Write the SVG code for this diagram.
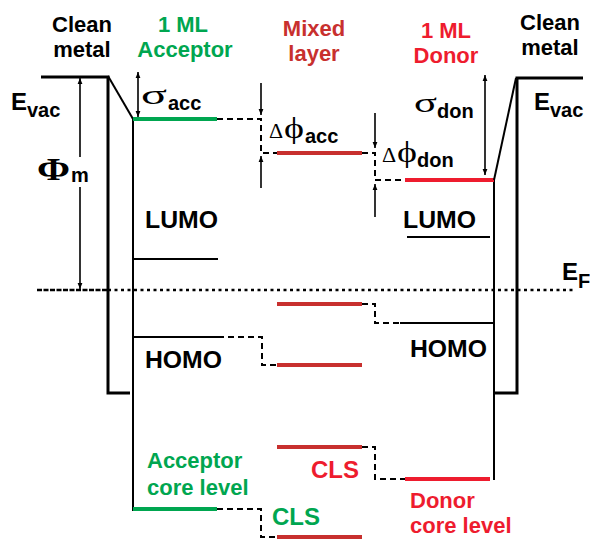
<svg xmlns="http://www.w3.org/2000/svg" width="590" height="540" viewBox="0 0 590 540">
<defs>
<marker id="ah" viewBox="0 0 10 10" refX="10" refY="5" markerWidth="6" markerHeight="10" markerUnits="userSpaceOnUse" orient="auto-start-reverse">
<path d="M0,1 L10,5 L0,9 Z" fill="#000"/>
</marker>
<style>
.t{font-family:"Liberation Sans",Arial,sans-serif;font-weight:bold;font-size:22px}
.b{font-family:"Liberation Sans",Arial,sans-serif;font-weight:bold;font-size:24px}
.s{font-family:"Liberation Sans",Arial,sans-serif;font-weight:bold;font-size:20px}
.g{font-family:"Liberation Serif","Times New Roman",serif}
.grn{fill:#00a650}
.mred{fill:#c8302e}
.dred{fill:#ee1c2e}
.metal{fill:none;stroke:#000;stroke-width:3}
.thin{fill:none;stroke:#000;stroke-width:2}
.lvg{stroke:#00a650;stroke-width:4}
.lvm{stroke:#c8302e;stroke-width:4}
.lvd{stroke:#ee1c2e;stroke-width:4}
.lvk{stroke:#000;stroke-width:2}
.dash{fill:none;stroke:#000;stroke-width:2;stroke-dasharray:6,4}
.arr{fill:none;stroke:#000;stroke-width:1.6}
</style>
</defs>
<rect width="590" height="540" fill="#fff"/>

<g id="fermi-level">
<path d="M37,290 H108" stroke="#000" stroke-width="2.5" stroke-dasharray="5,1.5"/>
<path d="M108,290 H573" stroke="#000" stroke-width="2.5" stroke-dasharray="3,3.5"/>
<text class="b" x="562" y="280">E</text>
<text class="s" x="578" y="288">F</text>
</g>

<g id="left-metal">
<path class="metal" d="M41,77 H108 V393 H130"/>
<path class="thin" d="M108,76 L133,119" stroke-width="2.5"/>
<text class="t" x="82" y="32" text-anchor="middle">Clean</text>
<text class="t" x="82" y="57" text-anchor="middle">metal</text>
<text class="b" x="11" y="110">E</text>
<text class="s" x="27" y="117">vac</text>
</g>

<g id="acceptor">
<path class="thin" d="M133,119 V511"/>
<line class="lvg" x1="133" y1="119" x2="217" y2="119"/>
<line class="lvk" x1="133" y1="259" x2="218" y2="259"/>
<line class="lvk" x1="133" y1="337" x2="218" y2="337"/>
<line class="lvg" x1="133" y1="509" x2="217" y2="509"/>
<text class="t grn" x="183" y="32" text-anchor="middle">1 ML</text>
<text class="t grn" x="185" y="57" text-anchor="middle">Acceptor</text>
<text class="b" x="145" y="228" textLength="73" lengthAdjust="spacingAndGlyphs">LUMO</text>
<text class="b" x="145" y="368" textLength="77" lengthAdjust="spacingAndGlyphs">HOMO</text>
<text class="t grn" x="147" y="468">Acceptor</text>
<text class="t grn" x="147" y="495">core level</text>
</g>

<g id="mixed-layer">
<line class="lvm" x1="277" y1="153" x2="362" y2="153"/>
<line class="lvm" x1="277" y1="304" x2="362" y2="304"/>
<line class="lvm" x1="277" y1="365" x2="362" y2="365"/>
<line class="lvm" x1="277" y1="447" x2="362" y2="447"/>
<line class="lvm" x1="277" y1="537" x2="362" y2="537"/>
<text class="t mred" x="314" y="36" text-anchor="middle">Mixed</text>
<text class="t mred" x="314" y="61" text-anchor="middle">layer</text>
<text class="b dred" x="311" y="478">CLS</text>
<text class="b grn" x="272" y="525">CLS</text>
</g>

<g id="donor">
<path class="thin" d="M494,180 V480"/>
<line class="lvd" x1="405" y1="180" x2="494" y2="180"/>
<line class="lvk" x1="407" y1="237" x2="490" y2="237"/>
<line class="lvk" x1="400" y1="323" x2="494" y2="323"/>
<line class="lvd" x1="405" y1="479" x2="490" y2="479"/>
<text class="t dred" x="446" y="38" text-anchor="middle">1 ML</text>
<text class="t dred" x="446" y="63" text-anchor="middle">Donor</text>
<text class="b" x="403" y="228" textLength="73" lengthAdjust="spacingAndGlyphs">LUMO</text>
<text class="b" x="410" y="357" textLength="77" lengthAdjust="spacingAndGlyphs">HOMO</text>
<text class="t dred" x="410" y="508">Donor</text>
<text class="t dred" x="410" y="533">core level</text>
</g>

<g id="right-metal">
<path class="metal" d="M583,78 H517 V393 H494" stroke-width="2.5"/>
<path class="thin" d="M494,180 L516,78" stroke-width="2.5"/>
<text class="t" x="550" y="30" text-anchor="middle">Clean</text>
<text class="t" x="550" y="55" text-anchor="middle">metal</text>
<text class="b" x="534" y="110">E</text>
<text class="s" x="550" y="117">vac</text>
</g>

<g id="labels-greek">
<text class="g" x="37" y="180" font-size="32" font-weight="bold" textLength="33" lengthAdjust="spacingAndGlyphs">Φ</text>
<text class="s" x="71" y="182">m</text>
<text class="g" x="141" y="104" font-size="28" textLength="26" lengthAdjust="spacingAndGlyphs">σ</text>
<text class="s" x="168" y="110">acc</text>
<text class="g" x="269" y="138" font-size="22">Δ</text>
<text class="g" x="284" y="138" font-size="30" textLength="20" lengthAdjust="spacingAndGlyphs">ϕ</text>
<text class="s" x="305" y="143">acc</text>
<text class="g" x="382" y="162" font-size="22">Δ</text>
<text class="g" x="397" y="162" font-size="30" textLength="20" lengthAdjust="spacingAndGlyphs">ϕ</text>
<text class="s" x="417" y="167">don</text>
<text class="g" x="414" y="112" font-size="28" textLength="23" lengthAdjust="spacingAndGlyphs">σ</text>
<text class="s" x="437" y="118">don</text>
</g>

<g id="connectors">
<path class="dash" d="M217,119 H261 V153 H277"/>
<path class="dash" d="M362,153 H375 V180 H405"/>
<path class="dash" d="M218,337 H262 V365 H277"/>
<path class="dash" d="M362,304 H375 V323 H400"/>
<path class="dash" d="M362,447 H375 V479 H405"/>
<path class="dash" d="M217,509 H261 V537 H277"/>
<path class="arr" d="M80,157 V78" marker-end="url(#ah)"/>
<path class="arr" d="M80,187 V289" marker-end="url(#ah)"/>
<path class="arr" d="M138,72 V117" marker-start="url(#ah)" marker-end="url(#ah)"/>
<path class="arr" d="M261,83 V115" marker-end="url(#ah)"/>
<path class="arr" d="M261,188 V156" marker-end="url(#ah)"/>
<path class="arr" d="M375,113 V148" marker-end="url(#ah)"/>
<path class="arr" d="M375,217 V184" marker-end="url(#ah)"/>
<path class="arr" d="M485,75 V175" marker-start="url(#ah)" marker-end="url(#ah)"/>
</g>
</svg>
